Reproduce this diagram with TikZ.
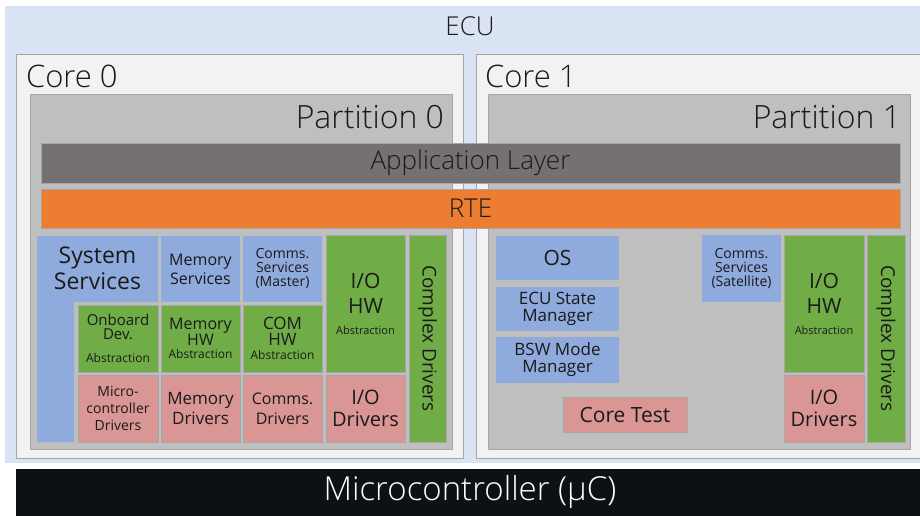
\documentclass[tikz,border=0pt]{standalone}
\usepackage{fontspec}
\setmainfont{Open Sans}[UprightFont={* Light}]
\newfontfamily\regfont{Open Sans}
\newcommand\myfs[2]{\fontsize{#1}{#2}\selectfont}
\definecolor{ecubg}{HTML}{DAE3F3}
\definecolor{corebg}{HTML}{F2F2F2}
\definecolor{partbg}{HTML}{BFBFBF}
\definecolor{bordergray}{HTML}{A6A6A6}
\definecolor{applayer}{HTML}{767171}
\definecolor{rteor}{HTML}{ED7D31}
\definecolor{svcblue}{HTML}{8FAADC}
\definecolor{hwgreen}{HTML}{70AD47}
\definecolor{drvpink}{HTML}{D99694}
\definecolor{mcblack}{HTML}{0E1113}
\definecolor{txt}{HTML}{1A1A1A}
\tikzset{
  frame/.style={rectangle, draw=bordergray, line width=0.8pt, inner sep=1pt, outer sep=0pt, align=center, text=txt},
  box/.style={frame, execute at begin node={\regfont}},
  bluebox/.style={box, fill=svcblue, draw=none},
  greenbox/.style={box, fill=hwgreen},
  pinkbox/.style={box, fill=drvpink},
  lbl/.style={inner sep=0pt, outer sep=0pt, text=txt},
}
\begin{document}
\begin{tikzpicture}[x=1pt,y=-1pt]
\useasboundingbox (0,0) rectangle (920,515);
\fill[white] (0,0) rectangle (920,515);
% ECU
\fill[ecubg] (5,6) rectangle (925,463);
\node[lbl, font=\myfs{26}{26}] (ecu) at (470,26) {ECU};
% Microcontroller
\node[rectangle, fill=mcblack, minimum width=914pt, minimum height=51pt, inner sep=0pt, outer sep=0pt] (mc) at (473,494.5) {};
\node[lbl, text=white, font=\myfs{33}{33}] (mctext) at (470,492) {Microcontroller (µC)};
% Cores
\node[frame, fill=corebg, line width=1pt, minimum width=447pt, minimum height=404pt] (core0) at (239.5,256) {};
\node[frame, fill=corebg, line width=1pt, minimum width=454pt, minimum height=404pt] (core1) at (703,256) {};
\node[lbl, anchor=base west, font=\myfs{31}{31}] (core0l) at (26,87) {Core 0};
\node[lbl, anchor=base west, font=\myfs{31}{31}] (core1l) at (485,87) {Core 1};
% Partitions
\node[frame, fill=partbg, line width=1pt, minimum width=422pt, minimum height=355pt] (part0) at (241,271.5) {};
\node[frame, fill=partbg, line width=1pt, minimum width=422pt, minimum height=355pt] (part1) at (699,271.5) {};
\node[lbl, anchor=base east, font=\myfs{32}{32}] (part0l) at (444,128) {Partition 0};
\node[lbl, anchor=base east, font=\myfs{32}{32}] (part1l) at (901,128) {Partition 1};
% Application layer and RTE
\node[frame, fill=applayer, minimum width=859pt, minimum height=40pt, font=\myfs{26}{26}] (app) at (470.5,163) {Application Layer};
\node[frame, fill=rteor, minimum width=859pt, minimum height=39pt, font=\myfs{26}{26}] (rte) at (470.5,208.5) {RTE};
% Partition 0 components
\fill[svcblue] (37,236) -- (158,236) -- (158,302) -- (74,302) -- (74,442) -- (37,442) -- cycle;
\node[lbl, align=center, font=\myfs{23}{26}\regfont] (syssvc) at (97.5,268) {System\\Services};
\node[bluebox, minimum width=79pt, minimum height=66pt, font=\myfs{16}{19}] (memsvc) at (200.5,269) {Memory\\Services};
\node[bluebox, minimum width=79pt, minimum height=66pt, font=\myfs{14}{14}] (commsm) at (282.5,269) {Comms.\\Services\\(Master)};
\node[greenbox, minimum width=79pt, minimum height=137pt, font=\myfs{21}{25}] (iohw0) at (365.5,303.5) {I/O\\HW\\[-4pt]{\myfs{11}{11}Abstraction}};
\node[greenbox, rotate=-90, minimum width=207pt, minimum height=37pt, font=\myfs{19}{19}] (cdrv0) at (427.5,338.5) {Complex Drivers};
\node[greenbox, minimum width=80pt, minimum height=67pt, font=\myfs{15}{14}] (onboard) at (118,338.5) {Onboard\\Dev.\\[9pt]{\myfs{12}{12}Abstraction}};
\node[greenbox, minimum width=79pt, minimum height=67pt, font=\myfs{16}{15}] (memhw) at (200.5,338.5) {Memory\\HW\\[-2pt]{\myfs{12}{12}Abstraction}};
\node[greenbox, minimum width=79pt, minimum height=67pt, font=\myfs{17}{16}] (comhw) at (282.5,338.5) {COM\\HW\\[-2pt]{\myfs{12}{12}Abstraction}};
\node[pinkbox, minimum width=80pt, minimum height=67pt, font=\myfs{14}{17}] (mcdrv) at (118,408.5) {Micro-\\controller\\Drivers};
\node[pinkbox, minimum width=79pt, minimum height=67pt, font=\myfs{17}{20}] (memdrv) at (200.5,408.5) {Memory\\Drivers};
\node[pinkbox, minimum width=79pt, minimum height=67pt, font=\myfs{16}{20}] (comdrv) at (282.5,408.5) {Comms.\\Drivers};
\node[pinkbox, minimum width=79pt, minimum height=67pt, font=\myfs{20}{22}] (iodrv0) at (365.5,408.5) {I/O\\Drivers};
% Partition 1 components
\node[bluebox, minimum width=123pt, minimum height=44pt, font=\myfs{21}{21}] (os) at (557.5,258) {OS};
\node[bluebox, minimum width=123pt, minimum height=44pt, font=\myfs{17}{17}] (ecusm) at (557.5,309) {ECU State\\Manager};
\node[bluebox, minimum width=123pt, minimum height=46pt, font=\myfs{17}{17}] (bswm) at (557.5,360) {BSW Mode\\Manager};
\node[pinkbox, minimum width=124pt, minimum height=35pt, font=\myfs{21}{21}] (coretest) at (625,414.5) {Core Test};
\node[bluebox, minimum width=79pt, minimum height=67pt, font=\myfs{14}{14}] (commssat) at (741.5,268.5) {Comms.\\Services\\(Satellite)};
\node[greenbox, minimum width=80pt, minimum height=137pt, font=\myfs{21}{25}] (iohw1) at (824,303.5) {I/O\\HW\\[-4pt]{\myfs{11}{11}Abstraction}};
\node[pinkbox, minimum width=80pt, minimum height=67pt, font=\myfs{20}{22}] (iodrv1) at (824,408.5) {I/O\\Drivers};
\node[greenbox, rotate=-90, minimum width=207pt, minimum height=38pt, font=\myfs{19}{19}] (cdrv1) at (886,338.5) {Complex Drivers};
\end{tikzpicture}
\end{document}
